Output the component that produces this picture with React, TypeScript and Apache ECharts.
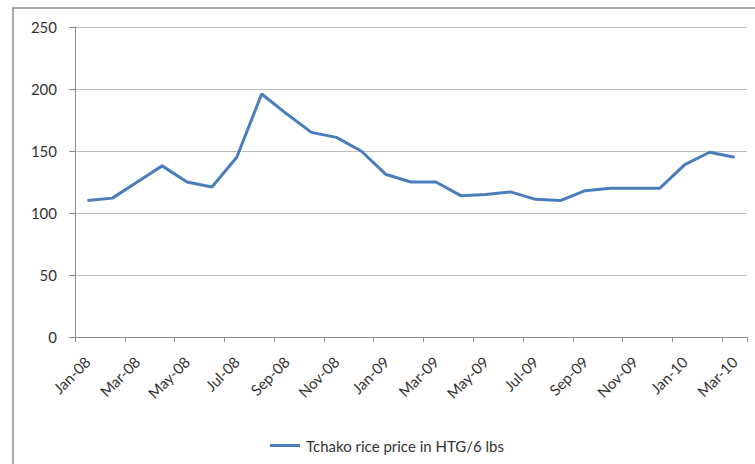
import React, { useEffect, useRef } from "react";
import * as echarts from "echarts";

const months = [
  "Jan-08", "Feb-08", "Mar-08", "Apr-08", "May-08", "Jun-08", "Jul-08", "Aug-08", "Sep-08",
  "Oct-08", "Nov-08", "Dec-08", "Jan-09", "Feb-09", "Mar-09", "Apr-09", "May-09", "Jun-09",
  "Jul-09", "Aug-09", "Sep-09", "Oct-09", "Nov-09", "Dec-09", "Jan-10", "Feb-10", "Mar-10",
];
const prices = [
  110, 112, 125, 138, 125, 121, 145, 196, 180,
  165, 161, 150, 131, 125, 125, 114, 115, 117,
  111, 110, 118, 120, 120, 120, 139, 149, 145,
];
const seriesName = "Tchako rice price in HTG/6 lbs";
const yMin = 0;
const yMax = 250;
const yStep = 50;

export default function App() {
  const ref = useRef<HTMLDivElement>(null);
  useEffect(() => {
    document.body.style.margin = "0";
    const chart = echarts.init(ref.current!, null, { renderer: "svg" });
    const font = "Lato, 'Noto Sans', sans-serif";
    chart.setOption({
      animation: false,
      backgroundColor: "#ffffff",
      textStyle: { fontFamily: font },
      graphic: [
        {
          type: "rect",
          shape: { x: 13, y: 8, width: 800, height: 500 },
          style: { fill: "none", stroke: "#8a8a8a", lineWidth: 1.5 },
          silent: true,
          z: -1,
        },
      ],
      grid: { left: 75, top: 27, right: 8, bottom: 127, containLabel: false },
      legend: {
        left: 265,
        top: 433,
        icon: "path://M0,0H10V1H0Z",
        itemWidth: 36,
        itemHeight: 3,
        itemGap: 10,
        textStyle: { fontFamily: font, fontSize: 15, color: "#333333", padding: [0, 0, 0, -2] },
        data: [seriesName],
      },
      xAxis: {
        type: "category",
        data: months,
        boundaryGap: true,
        axisLine: { show: true, lineStyle: { color: "#8a8a8a", width: 1 } },
        axisTick: { show: true, interval: 1, length: 5, lineStyle: { color: "#8a8a8a" } },
        axisLabel: {
          interval: 1,
          rotate: 45,
          margin: 22,
          fontFamily: font,
          fontSize: 15,
          color: "#333333",
        },
        splitLine: { show: false },
      },
      yAxis: {
        type: "value",
        min: yMin,
        max: yMax,
        interval: yStep,
        axisLine: { show: true, lineStyle: { color: "#8a8a8a", width: 1 } },
        axisTick: { show: true, length: 6, lineStyle: { color: "#8a8a8a" } },
        axisLabel: { margin: 18, fontFamily: font, fontSize: 15, color: "#333333" },
        splitLine: { show: true, lineStyle: { color: "#bdbdbd", width: 1.2 } },
      },
      series: [
        {
          name: seriesName,
          type: "line",
          data: prices,
          symbol: "none",
          lineStyle: { color: "#4a7ebb", width: 3 },
          itemStyle: { color: "#4a7ebb" },
        },
      ],
    });
    return () => chart.dispose();
  }, []);
  return (
    <div
      ref={ref}
      style={{ position: "absolute", left: 0, top: 0, width: 755, height: 464 }}
    />
  );
}
